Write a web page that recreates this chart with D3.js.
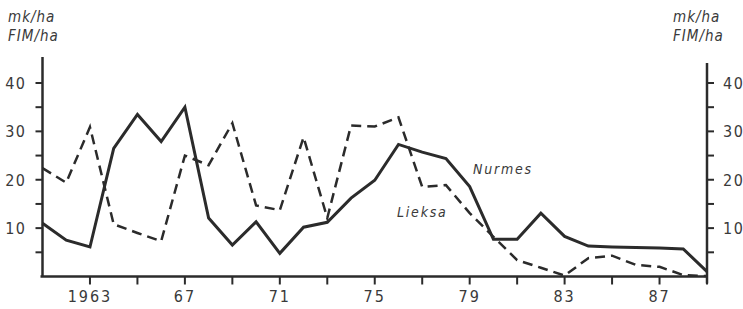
<!DOCTYPE html>
<html>
<head>
<meta charset="utf-8">
<script src="https://cdn.jsdelivr.net/npm/d3@7"></script>
<style>
  body { margin: 0; background: #fff; }
  text { font-family: "DejaVu Sans Condensed", "DejaVu Sans", sans-serif; fill: #3a3a3a; }
</style>
</head>
<body>
<svg id="chart" width="743" height="309"></svg>
<script>
// Years and values (mk/ha)
const years = d3.range(1961, 1990);
const nurmes = [11.0, 7.5, 6.1, 26.5, 33.5, 27.9, 35.0, 12.1, 6.5, 11.3, 4.8, 10.2, 11.2, 16.2, 19.9,
                27.3, 25.7, 24.4, 18.6, 7.7, 7.7, 13.1, 8.3, 6.3, 6.1, 6.0, 5.9, 5.7, 1.0];
const lieksa = [22.4, 19.4, 30.9, 10.8, 9.0, 7.3, 25.0, 23.0, 31.7, 14.7, 13.7, 28.8, 12.1, 31.2, 31.0,
                32.9, 18.5, 18.9, 13.1, 8.2, 3.4, 1.8, 0.2, 3.8, 4.3, 2.4, 2.0, 0.3, 0.1];
const xTickYears = d3.range(1963, 1990, 2);
const xLabels = {1963: "1963", 1967: "67", 1971: "71", 1975: "75", 1979: "79", 1983: "83", 1987: "87"};
const yTicks = [5, 10, 15, 20, 25, 30, 35, 40];
const yLabelTicks = [10, 20, 30, 40];

const svg = d3.select("#chart");
const x = d3.scaleLinear().domain([1961, 1989]).range([42.5, 707]);
const y = d3.scaleLinear().domain([0, 40]).range([276.5, 83]);

const ink = "#2b2b2b";

// X axis baseline
svg.append("line")
   .attr("x1", x(1961) - 2).attr("x2", x(1989))
   .attr("y1", y(0)).attr("y2", y(0))
   .attr("stroke", ink).attr("stroke-width", 2.5);

// X ticks
svg.selectAll("line.xt")
   .data(xTickYears)
   .enter().append("line")
     .attr("class", "xt")
     .attr("x1", d => x(d)).attr("x2", d => x(d))
     .attr("y1", y(0)).attr("y2", y(0) + 8)
     .attr("stroke", ink).attr("stroke-width", 2);

svg.selectAll("text.xl")
   .data(Object.keys(xLabels).map(Number))
   .enter().append("text")
     .attr("class", "xl")
     .attr("x", d => x(d))
     .attr("y", 302)
     .attr("text-anchor", "middle")
     .style("font-size", "16px")
     .style("letter-spacing", "2px")
     .text(d => xLabels[d]);

// Left and right axes
[[x(1961), 57, -1], [x(1989), 63, 1]].forEach(([ax, top, dir]) => {
  svg.append("line")
     .attr("x1", ax).attr("x2", ax)
     .attr("y1", top).attr("y2", y(0) + (dir > 0 ? 7 : 0))
     .attr("stroke", ink).attr("stroke-width", 2.5);

  svg.selectAll(null)
     .data(yTicks)
     .enter().append("line")
       .attr("x1", ax).attr("x2", ax + dir * 7)
       .attr("y1", d => y(d)).attr("y2", d => y(d))
       .attr("stroke", ink).attr("stroke-width", 2);

  svg.selectAll(null)
     .data(yLabelTicks)
     .enter().append("text")
       .attr("x", ax + dir * 16)
       .attr("y", d => y(d))
       .attr("dy", "0.36em")
       .attr("text-anchor", dir < 0 ? "end" : "start")
       .style("font-size", "16px")
       .style("letter-spacing", "1.5px")
       .text(d => d);
});

// Unit labels
[[8], [673]].forEach(([tx]) => {
  svg.append("text").attr("x", tx).attr("y", 22)
     .style("font-size", "15px").style("font-style", "italic").style("letter-spacing", "1px")
     .text("mk/ha");
  svg.append("text").attr("x", tx).attr("y", 41)
     .style("font-size", "15px").style("font-style", "italic").style("letter-spacing", "1px")
     .text("FIM/ha");
});

// Lines
const line = d3.line().x((d, i) => x(years[i])).y(d => y(d));

svg.append("path")
   .datum(lieksa)
   .attr("d", line)
   .attr("fill", "none")
   .attr("stroke", ink)
   .attr("stroke-width", 2.5)
   .attr("stroke-dasharray", "10,6");

svg.append("path")
   .datum(nurmes)
   .attr("d", line)
   .attr("fill", "none")
   .attr("stroke", ink)
   .attr("stroke-width", 3)
   .attr("stroke-linejoin", "miter");

// Series labels
svg.append("text").attr("x", 473).attr("y", 174)
   .style("font-size", "14px").style("font-style", "italic").style("letter-spacing", "1.8px")
   .text("Nurmes");
svg.append("text").attr("x", 397).attr("y", 217)
   .style("font-size", "14px").style("font-style", "italic").style("letter-spacing", "1.8px")
   .text("Lieksa");
</script>
</body>
</html>
